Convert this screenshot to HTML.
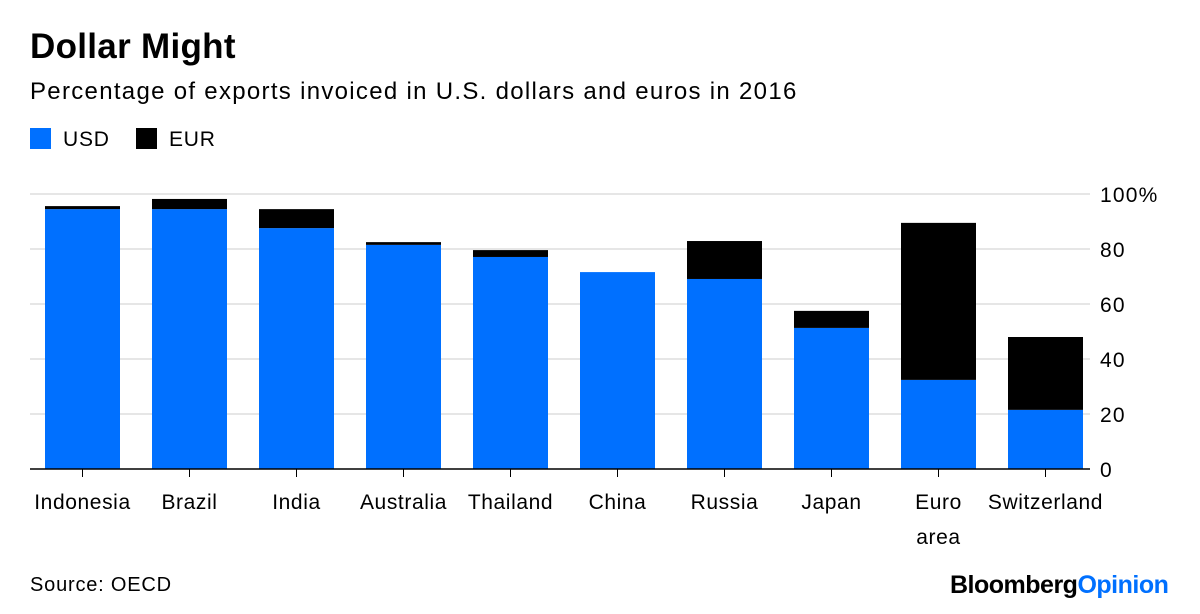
<!DOCTYPE html>
<html><head><meta charset="utf-8"><style>
body{margin:0;background:#fff;font-family:"Liberation Sans",Arial,sans-serif;}
#wrap{position:relative;width:1200px;height:614px;overflow:hidden;}
.t{position:absolute;white-space:nowrap;color:#000;}
</style></head><body>
<div id="wrap">
<div class="t" style="left:30px;top:27px;font-size:35px;font-weight:bold;letter-spacing:0.3px">Dollar Might</div>
<div class="t" style="left:30px;top:78px;font-size:24px;letter-spacing:1.3px">Percentage of exports invoiced in U.S. dollars and euros in 2016</div>
<div class="t" style="left:30px;top:128px;font-size:21px;letter-spacing:0.8px"><span style="display:inline-block;width:21px;height:21px;background:#0070ff;vertical-align:-3px;margin-right:12px"></span>USD</div>
<div class="t" style="left:136px;top:128px;font-size:21px;letter-spacing:0.8px"><span style="display:inline-block;width:21px;height:21px;background:#000;vertical-align:-3px;margin-right:12px"></span>EUR</div>
<svg id="svg" width="1200" height="614" style="position:absolute;left:0;top:0"></svg>
<div class="t" style="left:30px;top:574px;font-size:20px;letter-spacing:0.8px">Source: OECD</div>
<div class="t" style="left:950px;top:571px;font-size:25px;font-weight:bold;letter-spacing:-0.5px">Bloomberg<span style="color:#0070ff">Opinion</span></div>
</div>
<script>
const categories=["Indonesia","Brazil","India","Australia","Thailand","China","Russia","Japan","Euro|area","Switzerland"];
const usdValues=[94.5,94.5,87.6,81.5,77.1,71.6,69.1,51.3,32.4,21.5];
const eurValues=[1.1,3.7,6.9,1.0,2.5,0,13.8,6.2,57.1,26.5];
const yTicks=[0,20,40,60,80,100];
const yTickLabels=["0","20","40","60","80","100%"];
const svg=document.getElementById('svg');const NS="http://www.w3.org/2000/svg";
const y0=469,pxPer=2.75;
function y(v){return y0-v*pxPer;}
function x(i){return 45+i*107;}
const bw=75;
function mk(tag,attrs){const e=document.createElementNS(NS,tag);for(const k in attrs)e.setAttribute(k,attrs[k]);svg.appendChild(e);return e;}
yTicks.forEach((t,i)=>{
 if(t>0){const g=mk('line',{x1:30,x2:1090,y1:y(t),y2:y(t),stroke:'#e6e6e6','stroke-width':2});
 
 }
 const l=mk('text',{x:1100,y:y(t)+8,'font-size':21,fill:'#000','letter-spacing':'1.2','font-family':'Liberation Sans, Arial, sans-serif'});
 l.textContent=yTickLabels[i];
 
 
});
categories.forEach((c,i)=>{
 const u=mk('rect',{x:x(i),y:y(usdValues[i]),width:bw,height:usdValues[i]*pxPer,fill:'#0070ff'});
 
 
 if(eurValues[i]>0){const e=mk('rect',{x:x(i),y:y(usdValues[i]+eurValues[i]),width:bw,height:eurValues[i]*pxPer,fill:'#000'});
 
 }
 const tk=mk('line',{x1:x(i)+bw/2,x2:x(i)+bw/2,y1:y0,y2:y0+8,stroke:'#000','stroke-width':1});
 
 
 c.split('|').forEach((p,j)=>{
  const t=mk('text',{x:x(i)+bw/2,y:509+j*35,'font-size':21,'text-anchor':'middle','letter-spacing':'0.6',fill:'#000','font-family':'Liberation Sans, Arial, sans-serif'});
  t.textContent=p;
  
  
 });
});
const ax=mk('line',{x1:30,x2:1090,y1:y0,y2:y0,stroke:'#000','stroke-width':1.5});


</script>
</body></html>
